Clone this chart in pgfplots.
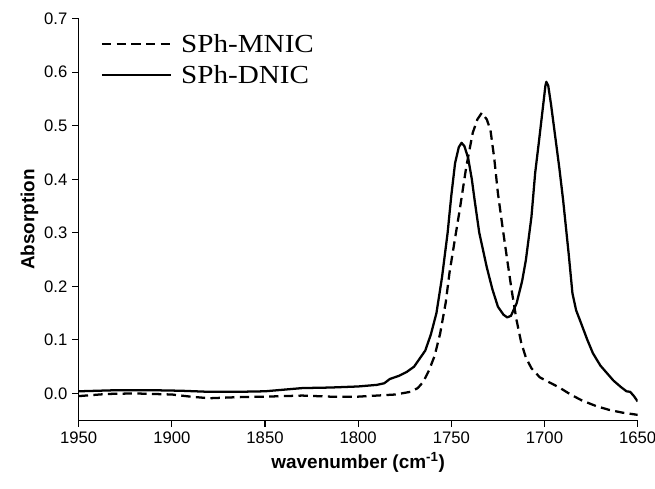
\documentclass[border=0pt]{standalone}
\usepackage{pgfplots}
\pgfplotsset{compat=1.18}
\usepackage{fontspec}
\setmainfont{Liberation Serif}
\setsansfont{Liberation Sans}
\newfontfamily\legfont[FakeStretch=1.12]{Liberation Serif}

\pgfplotstableread{
x y
1950 0.004
1930 0.006
1910 0.006
1895 0.005
1880 0.003
1865 0.003
1850 0.004
1840 0.007
1830 0.010
1815 0.011
1800 0.013
1790 0.016
1786 0.019
1783 0.027
1778 0.033
1774 0.040
1770 0.050
1767 0.065
1764 0.080
1761 0.11
1758 0.15
1755 0.217
1752 0.30
1750 0.37
1748 0.43
1746 0.460
1744.5 0.468
1743 0.462
1741 0.440
1739 0.40
1737.5 0.361
1735 0.30
1731 0.236
1728 0.195
1725 0.162
1722 0.147
1720 0.142
1718 0.145
1715 0.168
1712 0.21
1710 0.249
1707 0.33
1705 0.412
1703 0.47
1701 0.53
1699.5 0.575
1699 0.582
1698 0.575
1696.5 0.54
1695 0.50
1692 0.42
1690 0.361
1687 0.26
1685 0.187
1683 0.155
1681 0.137
1677 0.10
1674 0.075
1670 0.052
1666 0.036
1663 0.024
1659 0.012
1656 0.004
1654 0.003
1652 -0.005
1650 -0.015
}\dnic

\pgfplotstableread{
x y
1950 -0.005
1935 -0.001
1920 0.000
1900 -0.002
1890 -0.006
1880 -0.009
1865 -0.007
1850 -0.006
1830 -0.004
1815 -0.006
1800 -0.006
1790 -0.004
1780 -0.002
1772 0.003
1768 0.010
1765 0.022
1762 0.043
1759 0.07
1756 0.112
1753 0.17
1751 0.225
1748 0.29
1745.5 0.343
1742 0.423
1738.5 0.487
1736 0.512
1733.7 0.524
1731 0.512
1729 0.492
1727 0.44
1725 0.374
1722.5 0.31
1720 0.249
1717.5 0.19
1715 0.137
1712.5 0.095
1710 0.067
1707 0.047
1702.5 0.030
1697 0.020
1692 0.011
1686 -0.002
1680 -0.013
1672 -0.024
1665 -0.031
1658 -0.036
1650 -0.040
}\mnic

\begin{document}
\begin{tikzpicture}
\begin{axis}[
    scale only axis,
    width=419pt,
    height=301pt,
    x dir=reverse,
    xmin=1650, xmax=1950,
    ymin=-0.05, ymax=0.7,
    xtick={1650,1700,...,1950},
    ytick={0,0.1,...,0.7},
    axis x line*=bottom,
    axis y line*=left,
    axis line style={-, line width=0.8pt},
    tick align=outside,
    tick style={black, line width=0.8pt},
    major tick length=5pt,
    ticklabel style={font=\sffamily\fontsize{12.5}{14}\selectfont},
    /pgf/number format/assume math mode=true,
    yticklabel style={/pgf/number format/.cd, fixed, fixed zerofill, precision=1},
    xticklabel style={/pgf/number format/1000 sep={}},
    xlabel={\bfseries\sffamily wavenumber (cm\textsuperscript{-1})},
    ylabel={\bfseries\sffamily Absorption},
    label style={font=\fontsize{14.2}{16}\selectfont},
    xlabel style={at={(axis description cs:0.5,-0.105)}, anchor=center},
    ylabel style={at={(axis description cs:-0.088,0.5)}, anchor=center},
    legend style={draw=none, fill=none, at={(0.032,0.975)}, anchor=north west,
        font=\legfont\fontsize{19.5}{21.7}\selectfont, row sep=4pt},
    legend cell align=left,
    legend image code/.code={\draw[#1] (0pt,0pt) -- (52pt,0pt);},
    legend style={nodes={inner xsep=6.5pt}},
]
\addplot[black, line width=1.7pt, dash pattern=on 7pt off 4pt, line join=round] table[x=x,y=y] {\mnic};
\addlegendentry{SPh-MNIC}
\addplot[black, line width=1.7pt, line join=round] table[x=x,y=y] {\dnic};
\addlegendentry{SPh-DNIC}
\end{axis}
\pgfresetboundingbox
\path ([shift={(-59pt,-51pt)}]current axis.south west) rectangle ([shift={(13pt,14pt)}]current axis.north east);
\end{tikzpicture}
\end{document}
